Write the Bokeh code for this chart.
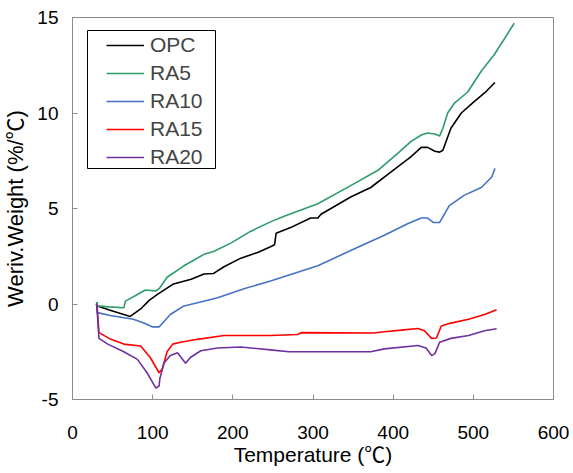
from bokeh.plotting import figure
from bokeh.models import Range1d, FixedTicker, Legend, LegendItem, BoxAnnotation
from bokeh.embed import file_html
from bokeh.resources import INLINE

# ---- data ----
opc_t = [30, 31, 45, 60, 72, 85, 96, 106, 126, 148, 164, 176, 189, 210, 231, 247, 252, 254, 272, 297,
         306, 310, 347, 372, 397, 422, 435, 443, 452, 458, 462, 472, 485, 501, 514, 527]
opc_v = [0.1, -0.1, -0.3, -0.5, -0.65, -0.26, 0.2, 0.5, 1.05, 1.3, 1.57, 1.6, 1.95, 2.4, 2.7, 3.0, 3.1, 3.7, 4.0, 4.5,
         4.5, 4.7, 5.6, 6.1, 6.9, 7.7, 8.2, 8.2, 8.0, 7.95, 8.05, 9.2, 10.0, 10.6, 11.05, 11.6]

ra5_t = [30, 31, 45, 64, 66, 81, 91, 104, 108, 118, 139, 164, 176, 198, 222, 247, 264, 306, 347, 381,
         406, 422, 435, 443, 452, 458, 462, 468, 476, 493, 510, 526, 539, 551]
ra5_v = [0.1, -0.1, -0.15, -0.2, 0.15, 0.5, 0.73, 0.68, 0.8, 1.4, 2.0, 2.6, 2.75, 3.2, 3.8, 4.3, 4.6, 5.25, 6.2, 7.0,
         7.9, 8.5, 8.85, 8.95, 8.9, 8.8, 9.2, 10.0, 10.5, 11.1, 12.2, 13.05, 13.9, 14.7]

ra10_t = [30, 31, 47, 76, 89, 100, 108, 122, 139, 160, 181, 214, 247, 306, 347, 389, 418, 435, 443, 450,
          458, 470, 489, 510, 523, 527]
ra10_v = [0.0, -0.45, -0.6, -0.8, -1.0, -1.2, -1.2, -0.55, -0.1, 0.1, 0.33, 0.8, 1.2, 2.0, 2.8, 3.6, 4.2, 4.5, 4.5, 4.27,
          4.27, 5.15, 5.7, 6.1, 6.65, 7.1]

ra15_t = [30, 31, 33, 48, 64, 85, 97, 108, 112, 118, 125, 135, 156, 189, 247, 281, 285, 376, 389, 410,
          431, 439, 448, 454, 460, 472, 494, 514, 529]
ra15_v = [0.0, -0.3, -1.5, -1.85, -2.1, -2.2, -2.8, -3.6, -3.4, -2.5, -2.1, -2.0, -1.85, -1.65, -1.65, -1.6, -1.5, -1.52, -1.45, -1.37,
          -1.28, -1.4, -1.8, -1.78, -1.15, -1.0, -0.8, -0.55, -0.3]

ra20_t = [30, 31, 33, 44, 64, 81, 93, 104, 108, 109, 114, 122, 131, 141, 147, 160, 181, 210, 247, 270,
          372, 389, 431, 441, 448, 452, 458, 472, 494, 514, 529]
ra20_v = [0.0, -0.5, -1.8, -2.1, -2.5, -2.9, -3.6, -4.4, -4.3, -3.9, -3.1, -2.7, -2.55, -3.1, -2.8, -2.45, -2.3, -2.25, -2.4, -2.5,
          -2.5, -2.35, -2.17, -2.3, -2.7, -2.6, -2.0, -1.8, -1.65, -1.4, -1.3]

series_names = ["OPC", "RA5", "RA10", "RA15", "RA20"]
x_ticks = [0, 100, 200, 300, 400, 500, 600]
y_ticks = [-5, 0, 5, 10, 15]
y_tick_labels = {-5: "-5", 0: "0", 5: "5", 10: "10", 15: "15"}

colors = ["#000000", "#2E9B6A", "#4472C4", "#FF0000", "#7030A0"]
FONT = "Liberation Sans, 'Noto Sans CJK JP'"
GRAY = "#8C8C8C"

p = figure(width=573, height=473, output_backend="svg", toolbar_location=None,
           x_range=Range1d(0, 600), y_range=Range1d(-5, 15),
           min_border_left=72, min_border_right=20, min_border_top=17, min_border_bottom=74)
p.grid.visible = False
p.outline_line_color = GRAY
p.outline_line_width = 1
p.background_fill_color = "white"
p.border_fill_color = "white"

p.xaxis.ticker = FixedTicker(ticks=x_ticks)
p.yaxis.ticker = FixedTicker(ticks=y_ticks)
p.yaxis.major_label_overrides = y_tick_labels
for ax in (p.xaxis[0], p.yaxis[0]):
    ax.axis_line_color = GRAY
    ax.major_tick_line_color = GRAY
    ax.major_tick_in = 5
    ax.major_tick_out = 0
    ax.minor_tick_line_color = None
    ax.major_label_text_font = FONT
    ax.major_label_text_font_size = "19px"
    ax.major_label_text_color = "#000000"
    ax.axis_label_text_font = FONT
    ax.axis_label_text_font_style = "normal"
    ax.axis_label_text_color = "#000000"

p.xaxis.axis_label = "Temperature (℃)"
p.yaxis.axis_label = "Weriv.Weight (%/℃)"
p.xaxis.axis_label_text_font_size = "21px"
p.yaxis.axis_label_text_font_size = "22px"
p.xaxis.major_label_standoff = 26
p.xaxis.axis_label_standoff = 1
p.yaxis.major_label_standoff = 14
p.yaxis.axis_label_standoff = 6

data = [(opc_t, opc_v), (ra5_t, ra5_v), (ra10_t, ra10_v), (ra15_t, ra15_v), (ra20_t, ra20_v)]
items = []
for name, (t, v), c in zip(series_names, data, colors):
    r = p.line(t, v, line_color=c, line_width=1.6)
    items.append(LegendItem(label=name, renderers=[r]))

# legend frame (screen units, relative to the plot frame)
p.add_layout(BoxAnnotation(left=15, right=143, bottom=231, top=369,
                           left_units="screen", right_units="screen",
                           bottom_units="screen", top_units="screen",
                           fill_alpha=0, line_color="#000000", line_width=1, line_alpha=1))

legend = Legend(items=items, location=(30, 226))
legend.border_line_alpha = 0
legend.background_fill_alpha = 0
legend.label_text_font = FONT
legend.label_text_font_size = "21px"
legend.glyph_width = 38
legend.glyph_height = 22
legend.label_height = 22
legend.label_standoff = 6
legend.spacing = 4
legend.padding = 4
legend.margin = 0
p.add_layout(legend)

open("out.html", "w").write(file_html(p, INLINE))
